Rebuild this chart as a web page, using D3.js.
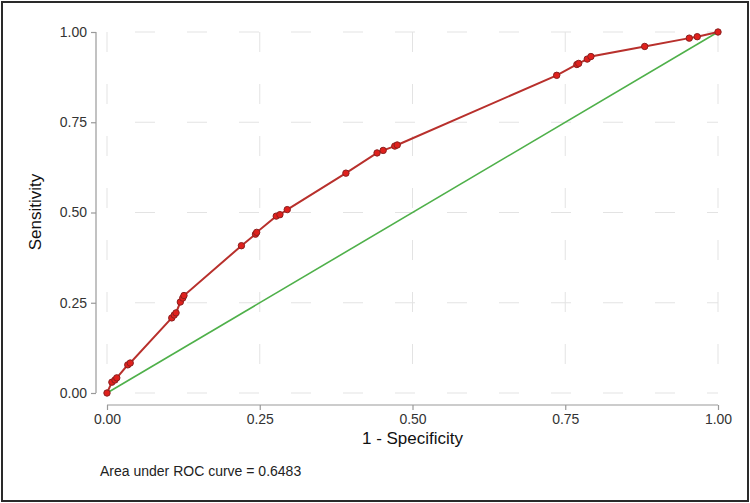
<!DOCTYPE html>
<html>
<head>
<meta charset="utf-8">
<script src="https://cdn.jsdelivr.net/npm/d3@7"></script>
<style>
html,body{margin:0;padding:0;background:#fff;}
svg{display:block;font-family:"Liberation Sans",Arial,sans-serif;}
</style>
</head>
<body>
<svg id="chart" width="750" height="503"></svg>
<script>
// ROC curve points (1 - specificity, sensitivity)
const fpr = [0, 0.008, 0.013, 0.016, 0.034, 0.038, 0.106, 0.110, 0.113, 0.120, 0.124, 0.126,
  0.220, 0.243, 0.245, 0.277, 0.283, 0.295, 0.391, 0.442, 0.452, 0.471, 0.475,
  0.736, 0.769, 0.772, 0.786, 0.792, 0.880, 0.953, 0.966, 1];
const tpr = [0, 0.030, 0.036, 0.042, 0.078, 0.083, 0.208, 0.216, 0.222, 0.252, 0.263, 0.270,
  0.408, 0.440, 0.445, 0.490, 0.494, 0.508, 0.609, 0.665, 0.672, 0.684, 0.687,
  0.880, 0.910, 0.913, 0.925, 0.932, 0.960, 0.983, 0.987, 1];
const refLine = [[0, 0], [1, 1]];
const xTicks = [0, 0.25, 0.5, 0.75, 1];
const yTicks = [0, 0.25, 0.5, 0.75, 1];
const xTitle = "1 - Specificity";
const yTitle = "Sensitivity";
const note = "Area under ROC curve = 0.6483";

const svg = d3.select("#chart");
const x = d3.scaleLinear().domain([0, 1]).range([107, 718]);
const y = d3.scaleLinear().domain([0, 1]).range([393, 32]);

// outer frame
svg.append("rect").attr("x", 2).attr("y", 2).attr("width", 746).attr("height", 499)
  .attr("fill", "#fff").attr("stroke", "#2a2a2a").attr("stroke-width", 2);

// grid
const grid = svg.append("g").attr("stroke", "#e3e3e3").attr("stroke-width", 1)
  .attr("stroke-dasharray", "20,32");
grid.selectAll("line.h").data(yTicks).join("line").attr("class", "h")
  .attr("x1", x(0)).attr("x2", x(1)).attr("y1", d => y(d)).attr("y2", d => y(d))
  .attr("stroke-dashoffset", 24);
grid.selectAll("line.v").data(xTicks).join("line").attr("class", "v")
  .attr("x1", d => x(d)).attr("x2", d => x(d)).attr("y1", y(1)).attr("y2", y(0));

// axes
const yAxis = d3.axisLeft(y).tickValues(yTicks).tickFormat(d3.format(".2f")).tickSize(5).tickPadding(4);
const gy = svg.append("g").attr("transform", "translate(96,0)").call(yAxis);
const xAxis = d3.axisBottom(x).tickValues(xTicks).tickFormat(d3.format(".2f")).tickSize(5).tickPadding(4);
const gx = svg.append("g").attr("transform", "translate(0,405)").call(xAxis);
[gx, gy].forEach(g => {
  g.select(".domain").attr("stroke", "#999").attr("stroke-width", 1.2);
  g.selectAll(".tick line").attr("stroke", "#999").attr("stroke-width", 1.2);
  g.selectAll(".tick text").attr("fill", "#333").attr("font-size", 14)
    .attr("font-family", "Liberation Sans, Arial, sans-serif");
});
gy.select(".domain").attr("d", `M0,${y(1)}V${y(0)}`);
gx.select(".domain").attr("d", `M${x(0)},0H${x(1)}`);

// reference line
svg.append("path").datum(refLine)
  .attr("d", d3.line().x(d => x(d[0])).y(d => y(d[1])))
  .attr("fill", "none").attr("stroke", "#4fb04a").attr("stroke-width", 1.6);

// ROC curve
const pts = fpr.map((f, i) => [f, tpr[i]]);
svg.append("path").datum(pts)
  .attr("d", d3.line().x(d => x(d[0])).y(d => y(d[1])))
  .attr("fill", "none").attr("stroke", "#b8302c").attr("stroke-width", 2);
svg.append("g").selectAll("circle").data(pts).join("circle")
  .attr("cx", d => x(d[0])).attr("cy", d => y(d[1])).attr("r", 3.2)
  .attr("fill", "#e0201c").attr("stroke", "#8a2020").attr("stroke-width", 1);

// titles
svg.append("text").attr("x", (x(0) + x(1)) / 2).attr("y", 444)
  .attr("text-anchor", "middle").attr("font-size", 17).attr("fill", "#111").text(xTitle);
svg.append("text").attr("transform", "translate(41,212) rotate(-90)")
  .attr("text-anchor", "middle").attr("font-size", 17).attr("fill", "#111").text(yTitle);
svg.append("text").attr("x", 100).attr("y", 476)
  .attr("font-size", 14).attr("fill", "#222").text(note);
</script>
</body>
</html>
